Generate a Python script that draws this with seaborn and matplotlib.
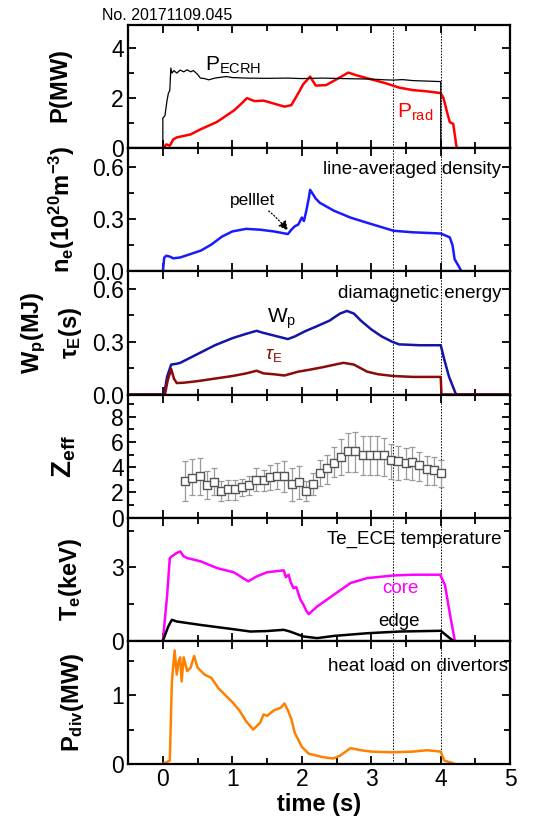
import numpy as np
import pandas as pd
import matplotlib
matplotlib.use("Agg")
import matplotlib.pyplot as plt
import seaborn as sns
from matplotlib.ticker import MultipleLocator

sns.set_style("ticks")
plt.rcParams['font.family'] = ['Liberation Sans', 'DejaVu Sans']
plt.rcParams['mathtext.fontset'] = 'custom'
plt.rcParams['mathtext.rm'] = 'Liberation Sans'
plt.rcParams['mathtext.it'] = 'Liberation Sans:italic'
plt.rcParams['mathtext.bf'] = 'Liberation Sans:bold'
for k in ['text.color', 'axes.labelcolor', 'xtick.color', 'ytick.color', 'axes.edgecolor']:
    plt.rcParams[k] = 'black'

# ---------------- data ----------------
shot_label = "No. 20171109.045"

t_ecrh = [-0.5, 0.0, 0.0, 0.03, 0.06, 0.08, 0.1, 0.11, 0.115, 0.13, 0.16, 0.2, 0.25, 0.3, 0.35, 0.4, 0.44, 0.5, 0.54, 0.6, 0.66, 0.75, 0.85, 0.92, 1.0, 1.2, 1.5, 1.8, 2.0, 2.3, 2.6, 3.0, 3.2, 3.32, 3.45, 3.6, 3.8, 4.0, 4.0, 5.0]
p_ecrh = [0, 0, 1.2, 1.3, 1.9, 2.2, 2.3, 2.9, 3.2, 3.0, 3.1, 3.0, 3.12, 3.05, 3.13, 3.05, 3.1, 2.95, 2.8, 2.78, 2.73, 2.8, 2.84, 2.86, 2.82, 2.8, 2.79, 2.8, 2.78, 2.8, 2.78, 2.76, 2.73, 2.72, 2.74, 2.7, 2.68, 2.66, 0, 0]

t_rad = [-0.5, 0.0, 0.05, 0.1, 0.15, 0.2, 0.4, 0.54, 0.78, 1.02, 1.12, 1.21, 1.32, 1.45, 1.6, 1.75, 1.85, 1.95, 2.02, 2.12, 2.2, 2.35, 2.5, 2.67, 2.8, 3.0, 3.2, 3.4, 3.6, 3.8, 4.0, 4.04, 4.09, 4.13, 4.18, 4.23, 5.0]
p_rad = [0, 0, 0.15, 0.1, 0.35, 0.43, 0.55, 0.75, 1.05, 1.5, 1.75, 2.0, 1.88, 1.9, 1.78, 1.66, 1.72, 2.2, 2.55, 2.86, 2.5, 2.52, 2.75, 3.02, 2.9, 2.75, 2.6, 2.42, 2.32, 2.27, 2.2, 2.0, 1.45, 1.04, 0.97, 0.0, 0.0]

t_ne = [-0.5, 0.0, 0.02, 0.05, 0.1, 0.15, 0.25, 0.4, 0.55, 0.7, 0.85, 1.0, 1.2, 1.4, 1.6, 1.8, 1.85, 1.9, 1.95, 2.0, 2.03, 2.06, 2.1, 2.12, 2.2, 2.26, 2.46, 2.7, 2.94, 3.32, 3.6, 3.9, 4.0, 4.13, 4.17, 4.2, 4.3, 5.0]
ne = [0, 0, 0.08, 0.09, 0.085, 0.075, 0.08, 0.1, 0.12, 0.155, 0.2, 0.23, 0.245, 0.24, 0.23, 0.215, 0.24, 0.26, 0.27, 0.31, 0.29, 0.34, 0.42, 0.47, 0.42, 0.395, 0.35, 0.31, 0.28, 0.234, 0.225, 0.22, 0.218, 0.196, 0.15, 0.07, 0.0, 0.0]

t_wp = [-0.5, 0.02, 0.06, 0.12, 0.2, 0.25, 0.5, 0.75, 1.0, 1.2, 1.35, 1.45, 1.6, 1.8, 1.9, 2.05, 2.2, 2.4, 2.55, 2.65, 2.75, 2.85, 3.0, 3.15, 3.3, 3.4, 3.7, 4.0, 4.05, 4.12, 4.22, 5.0]
wp = [0, 0, 0.1, 0.17, 0.175, 0.18, 0.23, 0.28, 0.32, 0.345, 0.362, 0.35, 0.335, 0.315, 0.33, 0.36, 0.385, 0.42, 0.46, 0.475, 0.46, 0.42, 0.37, 0.33, 0.3, 0.285, 0.28, 0.28, 0.2, 0.1, 0.0, 0.0]

t_tau = [-0.5, 0.03, 0.07, 0.12, 0.16, 0.2, 0.3, 0.5, 1.0, 1.2, 1.35, 1.45, 1.6, 1.75, 1.95, 2.1, 2.3, 2.5, 2.6, 2.75, 2.94, 3.1, 3.32, 3.6, 4.0, 4.01, 5.0]
tau = [0, 0, 0.08, 0.145, 0.09, 0.065, 0.067, 0.076, 0.105, 0.12, 0.135, 0.12, 0.115, 0.108, 0.13, 0.14, 0.155, 0.172, 0.18, 0.17, 0.13, 0.115, 0.105, 0.1, 0.1, 0.0, 0.0]

t_zeff = [0.32, 0.42, 0.53, 0.63, 0.73, 0.83, 0.94, 1.04, 1.14, 1.24, 1.34, 1.45, 1.54, 1.65, 1.75, 1.86, 1.96, 2.06, 2.16, 2.26, 2.36, 2.47, 2.57, 2.67, 2.77, 2.88, 2.98, 3.08, 3.18, 3.29, 3.39, 3.5, 3.59, 3.69, 3.8, 3.9, 4.0]
zeff = [2.92, 3.17, 3.3, 2.6, 2.86, 2.14, 2.27, 2.27, 2.45, 2.58, 3.0, 2.97, 3.2, 3.3, 3.3, 2.7, 2.85, 2.14, 2.7, 3.56, 3.9, 4.34, 4.77, 5.24, 5.3, 4.98, 4.98, 4.98, 4.93, 4.6, 4.5, 4.34, 4.4, 4.15, 3.82, 3.77, 3.56]
zeff_hi = [4.5, 4.67, 4.7, 3.7, 3.9, 2.9, 3.0, 3.0, 3.1, 3.3, 3.9, 3.8, 4.2, 4.3, 4.5, 3.9, 4.1, 2.9, 3.5, 4.6, 5.0, 5.6, 6.2, 6.7, 6.8, 6.5, 6.5, 6.5, 6.3, 5.8, 5.7, 5.5, 5.6, 5.2, 4.9, 4.8, 4.6]
zeff_lo = [1.3, 1.8, 1.83, 1.5, 1.8, 1.3, 1.4, 1.4, 1.7, 1.8, 2.1, 2.1, 2.2, 2.3, 2.0, 1.3, 1.5, 1.3, 1.8, 2.5, 2.7, 3.2, 3.4, 3.6, 3.6, 3.4, 3.4, 3.4, 3.3, 3.1, 3.0, 3.1, 3.0, 2.9, 2.6, 2.6, 2.4]

t_core = [0.0, 0.03, 0.06, 0.1, 0.13, 0.2, 0.25, 0.3, 0.35, 0.54, 0.78, 1.02, 1.23, 1.35, 1.5, 1.74, 1.77, 1.81, 1.84, 1.88, 1.92, 1.98, 2.02, 2.06, 2.1, 2.22, 2.46, 2.7, 2.94, 3.32, 3.6, 3.99, 4.06, 4.13, 4.2]
te_core = [0.0, 0.9, 1.8, 3.38, 3.45, 3.59, 3.65, 3.45, 3.38, 3.25, 2.97, 2.8, 2.43, 2.63, 2.8, 2.88, 2.6, 2.7, 2.4, 2.15, 2.2, 1.68, 1.5, 1.25, 1.09, 1.4, 1.88, 2.36, 2.56, 2.67, 2.7, 2.7, 2.29, 1.13, 0.04]

t_edge = [0.0, 0.08, 0.13, 0.2, 0.54, 1.0, 1.26, 1.5, 1.74, 1.83, 2.02, 2.22, 2.46, 2.94, 3.41, 4.0, 4.09, 4.18]
te_edge = [0.0, 0.6, 0.86, 0.79, 0.65, 0.48, 0.38, 0.4, 0.45, 0.38, 0.18, 0.11, 0.2, 0.31, 0.38, 0.41, 0.2, 0.0]

t_div = [0.0, 0.1, 0.13, 0.17, 0.2, 0.23, 0.25, 0.27, 0.3, 0.35, 0.4, 0.45, 0.5, 0.6, 0.7, 0.8, 0.9, 1.0, 1.1, 1.2, 1.3, 1.4, 1.45, 1.5, 1.6, 1.7, 1.75, 1.8, 1.85, 1.9, 2.0, 2.1, 2.3, 2.45, 2.55, 2.7, 2.85, 3.0, 3.3, 3.6, 3.8, 4.0, 4.05, 4.15, 4.2]
p_div = [0.0, 0.05, 1.2, 1.65, 1.3, 1.5, 1.55, 1.2, 1.55, 1.35, 1.4, 1.57, 1.4, 1.3, 1.25, 1.1, 1.0, 0.9, 0.78, 0.62, 0.5, 0.6, 0.72, 0.7, 0.78, 0.82, 0.88, 0.78, 0.65, 0.45, 0.25, 0.15, 0.1, 0.08, 0.12, 0.23, 0.2, 0.18, 0.17, 0.18, 0.2, 0.18, 0.05, 0.02, 0.0]

marker_times = [3.32, 4.0]

# ---------------- figure ----------------
fig, axes = plt.subplots(6, 1, figsize=(5.57, 8.23), dpi=100, sharex=True)
fig.subplots_adjust(left=0.23, right=0.916, top=0.9696, bottom=0.0717, hspace=0)

TICK_FS = 16.5
LAB_FS = 17
ANN_FS = 13.5

def line(ax, x, y, color, lw=1.6):
    sns.lineplot(x=x, y=y, ax=ax, color=color, linewidth=lw, estimator=None, sort=False)

# panel 1
ax = axes[0]
line(ax, t_rad, p_rad, "#ff0000", 1.8)
line(ax, t_ecrh, p_ecrh, "black", 0.9)
ax.set_ylim(0, 4.92)
ax.yaxis.set_major_locator(MultipleLocator(2))
ax.yaxis.set_minor_locator(MultipleLocator(1))
ax.text(0.61, 3.1, r"P$_{\rm ECRH}$", fontsize=15, color="black", va="baseline")
ax.text(3.37, 1.2, r"P$_{\rm rad}$", fontsize=15, color="#ff0000", va="baseline")
ax.set_ylabel(r"$\mathbf{P(MW)}$", fontsize=LAB_FS)

# panel 2
ax = axes[1]
line(ax, t_ne, ne, "#1a1aff", 1.8)
ax.set_ylim(0, 0.71)
ax.yaxis.set_major_locator(MultipleLocator(0.3))
ax.yaxis.set_minor_locator(MultipleLocator(0.15))
ax.yaxis.set_major_formatter(matplotlib.ticker.FormatStrFormatter('%.1f'))
ax.text(4.87, 0.585, "line-averaged density", fontsize=ANN_FS, ha="right", va="center")
ax.annotate("pelllet", xy=(1.8, 0.235), xytext=(0.97, 0.41), fontsize=ANN_FS - 1,
            va="center", ha="left",
            arrowprops=dict(arrowstyle="-|>", linestyle=":", color="black", lw=0.9,
                            mutation_scale=14, shrinkA=0, shrinkB=0,
                            connectionstyle="arc3,rad=-0.1"))
ax.set_ylabel(r"$\mathbf{n_e(10^{20}m^{-3})}$", fontsize=LAB_FS)

# panel 3
ax = axes[2]
line(ax, t_wp, wp, "#1414a8", 1.8)
line(ax, t_tau, tau, "#8b0a0a", 1.8)
ax.set_ylim(0, 0.70)
ax.yaxis.set_major_locator(MultipleLocator(0.3))
ax.yaxis.set_minor_locator(MultipleLocator(0.15))
ax.yaxis.set_major_formatter(matplotlib.ticker.FormatStrFormatter('%.1f'))
ax.text(4.87, 0.575, "diamagnetic energy", fontsize=ANN_FS, ha="right", va="center")
ax.text(1.5, 0.43, r"W$_{\rm p}$", fontsize=15, color="black", va="center")
ax.text(1.47, 0.22, r"$\tau_{\rm E}$", fontsize=ANN_FS, color="#8b0a0a", va="center")
ax.set_ylabel(r"$\mathbf{W_p(MJ)}$", fontsize=LAB_FS)
ax.text(-0.15, 0.5, r"$\mathbf{\tau_E(s)}$", fontsize=LAB_FS, rotation=90,
        transform=ax.transAxes, ha="center", va="center")

# panel 4
ax = axes[3]
ax.errorbar(t_zeff, zeff,
            yerr=[np.array(zeff) - np.array(zeff_lo), np.array(zeff_hi) - np.array(zeff)],
            fmt="none", ecolor="#9a9a9a", elinewidth=0.9, capsize=2.5, capthick=0.9, zorder=2)
sns.scatterplot(x=t_zeff, y=zeff, ax=ax, marker="s", s=28, facecolor="white",
                edgecolor="#555555", linewidth=1.0, zorder=3)
ax.set_ylim(0, 9.75)
ax.yaxis.set_major_locator(MultipleLocator(2))
ax.yaxis.set_minor_locator(MultipleLocator(1))
ax.set_ylabel(r"$\mathbf{Z_{eff}}$", fontsize=LAB_FS + 3)

# panel 5
ax = axes[4]
line(ax, t_core, te_core, "#ff00ff", 1.8)
line(ax, t_edge, te_edge, "black", 1.8)
ax.set_ylim(0, 5.03)
ax.yaxis.set_major_locator(MultipleLocator(3))
ax.yaxis.set_minor_locator(MultipleLocator(1.5))
ax.text(4.87, 4.15, "Te_ECE temperature", fontsize=ANN_FS, ha="right", va="center")
ax.text(3.42, 2.15, "core", fontsize=ANN_FS, color="#ff00ff", ha="center", va="center")
ax.text(3.4, 0.8, "edge", fontsize=ANN_FS, color="black", ha="center", va="center")
ax.set_ylabel(r"$\mathbf{T_e(keV)}$", fontsize=LAB_FS)

# panel 6
ax = axes[5]
line(ax, t_div, p_div, "#ff8000", 1.8)
ax.set_ylim(0, 1.79)
ax.yaxis.set_major_locator(MultipleLocator(1))
ax.yaxis.set_minor_locator(MultipleLocator(0.5))
ax.text(4.97, 1.41, "heat load on divertors", fontsize=ANN_FS, ha="right", va="center")
ax.set_ylabel(r"$\mathbf{P_{div}(MW)}$", fontsize=LAB_FS)
ax.set_xlabel("time (s)", fontsize=LAB_FS, fontweight="bold", labelpad=1)

label_x = [-0.14, -0.135, -0.21, -0.13, -0.115, -0.11]
for i, ax in enumerate(axes):
    ax.set_xlim(-0.5, 5)
    ax.xaxis.set_major_locator(MultipleLocator(1))
    ax.xaxis.set_minor_locator(MultipleLocator(0.5))
    for tv in marker_times:
        ax.axvline(tv, color="black", linestyle=(0, (1.5, 1.5)), linewidth=0.7, zorder=1)
    ax.tick_params(axis="both", which="both", direction="in", top=True, right=True,
                   labelsize=TICK_FS, width=1.3, pad=3)
    ax.tick_params(axis="both", which="major", length=6)
    ax.tick_params(axis="both", which="minor", length=4)
    for sp in ax.spines.values():
        sp.set_linewidth(1.6)
        sp.set_visible(True)
        sp.set_color("black")
    ax.yaxis.set_label_coords(label_x[i], 0.5)

fig.text(0.183, 0.981, shot_label, fontsize=11.5, ha="left", va="center")

fig.savefig("out.png", dpi=100)
